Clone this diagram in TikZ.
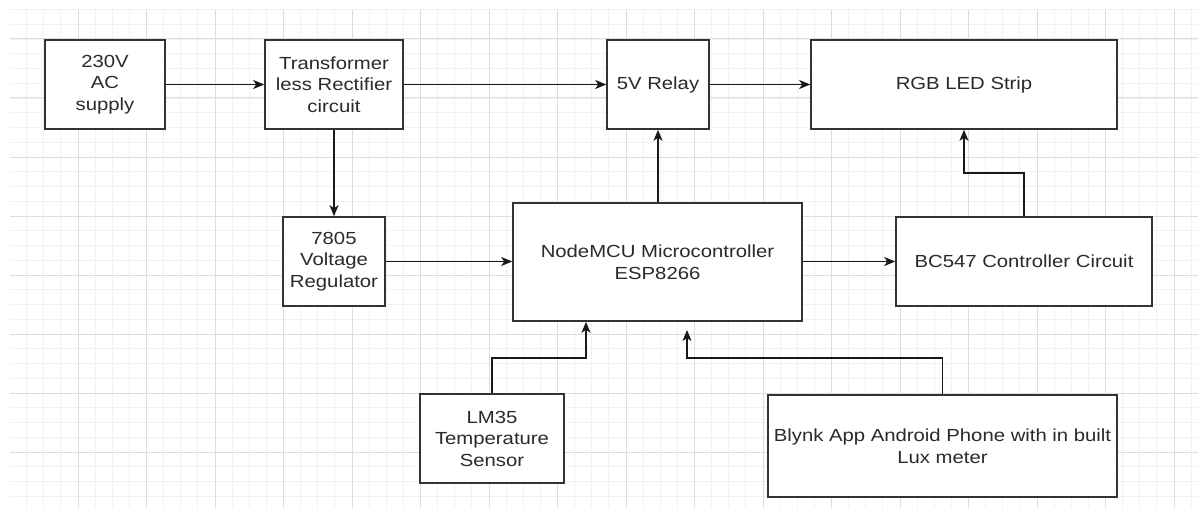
\documentclass[tikz,border=0pt]{standalone}
\usepackage{fontspec}
\setmainfont{Liberation Sans}[FakeStretch=1.16]
\usetikzlibrary{arrows.meta,calc}
\definecolor{minorgrid}{HTML}{F1F1F1}
\definecolor{majorgrid}{HTML}{DDDDDD}
\definecolor{boxline}{HTML}{333333}
\definecolor{txt}{HTML}{2A2A2A}
\tikzset{
  blk/.style={draw=boxline, line width=1.6pt, fill=white, inner sep=0pt, align=center,
    text=txt, font=\fontsize{17.5}{21.5}\selectfont},
  arr/.style={draw=black!90, line width=1.6pt, -{Stealth[length=11pt,width=9pt,inset=3pt]}},
}
\begin{document}
\begin{tikzpicture}[x=1pt,y=-1pt]
\useasboundingbox (0,0) rectangle (1198,508);
\fill[white] (0,0) rectangle (1198,508);
\begin{scope}
\clip (10,10) rectangle (1198,508);
\foreach \i in {0,...,70} {\draw[minorgrid, line width=0.8pt] ({9.5+17.125*\i},10) -- ({9.5+17.125*\i},508);}
\foreach \k in {-2,...,32} {\draw[minorgrid, line width=0.8pt] (10,{39+14.75*\k}) -- (1198,{39+14.75*\k});}
\foreach \i in {0,...,17} {\draw[majorgrid, line width=1pt] ({9.5+68.5*\i},10) -- ({9.5+68.5*\i},508);}
\foreach \k in {-1,...,8} {\draw[majorgrid, line width=1pt] (10,{39+59*\k}) -- (1198,{39+59*\k});}
\end{scope}

\node[blk, minimum width=120pt, minimum height=89pt] (ac) at (105,84.5) {230V\\AC\\supply};
\node[blk, minimum width=138pt, minimum height=89pt] (tr) at (334,84.5) {Transformer\\less Rectifier\\circuit};
\node[blk, minimum width=102pt, minimum height=89pt] (relay) at (658,84.5) {5V Relay};
\node[blk, minimum width=306pt, minimum height=89pt] (rgb) at (964,84.5) {RGB LED Strip};
\node[blk, minimum width=102pt, minimum height=89pt] (reg) at (334,261.5) {7805\\Voltage\\Regulator};
\node[blk, minimum width=289pt, minimum height=118pt] (mcu) at (657.5,262) {NodeMCU Microcontroller\\ESP8266};
\node[blk, minimum width=256pt, minimum height=89pt] (bc) at (1024,261.5) {BC547 Controller Circuit};
\node[blk, minimum width=144pt, minimum height=89pt] (lm) at (492,438.5) {LM35\\Temperature\\Sensor};
\node[blk, minimum width=349pt, minimum height=102pt] (bl) at (942.5,446) {Blynk App Android Phone with in built\\Lux meter};

\coordinate (blend) at (687,330);

\draw[arr] (ac.east) -- (tr.west);
\draw[arr] (tr.east) -- (relay.west);
\draw[arr] (relay.east) -- (rgb.west);
\draw[arr] (tr.south) -- (reg.north);
\draw[arr] (reg.east) -- (reg.east -| mcu.west);
\draw[arr] (mcu.north -| relay.south) -- (relay.south);
\draw[arr] (mcu.east |- bc.west) -- (bc.west);
\draw[arr] (bc.north) -- (bc.north |- 0,173) -- (rgb.south |- 0,173) -- (rgb.south);
\draw[arr] (lm.north) -- (lm.north |- 0,358) -- (586,358) -- (586,0 |- mcu.south);
\draw[arr] (bl.north) -- (bl.north |- 0,358) -- (blend |- 0,358) -- (blend);
\end{tikzpicture}
\end{document}
